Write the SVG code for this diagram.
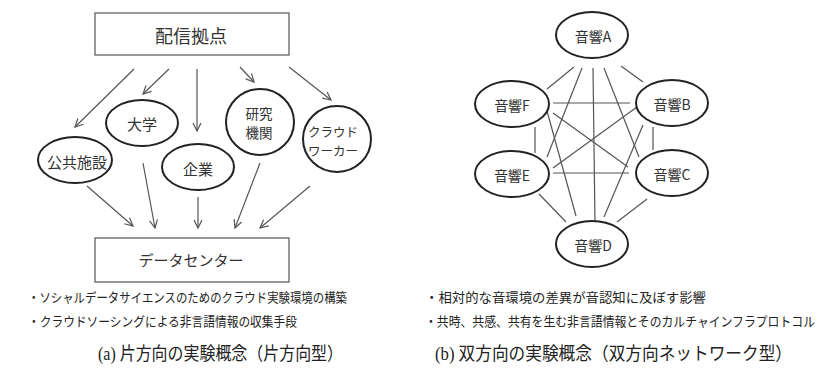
<svg xmlns="http://www.w3.org/2000/svg" width="827" height="372" viewBox="0 0 827 372">
<defs>
<style>
.box{fill:#fff;stroke:#555;stroke-width:1.2}
.node{fill:#fff;stroke:#222;stroke-width:2}
.t{font-family:"Noto Sans CJK JP","Liberation Sans",sans-serif;fill:#333;text-anchor:middle;dominant-baseline:central}
.b{font-family:"Noto Sans CJK JP","Liberation Sans",sans-serif;fill:#222;font-size:13px}
.cap{font-family:"Liberation Serif","Noto Sans CJK JP",serif;fill:#222;font-size:18px}
.arr{stroke:#555;stroke-width:1.2;fill:none;marker-end:url(#ah)}
.ln{stroke:#555;stroke-width:1.2;fill:none}
</style>
<marker id="ah" viewBox="0 0 10 10" markerWidth="10" markerHeight="10" refX="9" refY="5" orient="auto" markerUnits="userSpaceOnUse">
<path d="M1,1 L9,5 L1,9" fill="none" stroke="#555" stroke-width="1.2"/>
</marker>
</defs>
<rect width="827" height="372" fill="#fff"/>

<g id="connectors">
<line class="arr" x1="134" y1="69" x2="75" y2="127"/>
<line class="arr" x1="169" y1="69" x2="143" y2="94"/>
<line class="arr" x1="197" y1="69" x2="197" y2="131"/>
<line class="arr" x1="240" y1="67" x2="254" y2="82"/>
<line class="arr" x1="289" y1="67" x2="331" y2="100"/>
<line class="arr" x1="87" y1="186" x2="133" y2="226"/>
<line class="arr" x1="143" y1="163" x2="155" y2="228"/>
<line class="arr" x1="198" y1="197" x2="198" y2="228"/>
<line class="arr" x1="260" y1="163" x2="235" y2="228"/>
<line class="arr" x1="310" y1="186" x2="260" y2="228"/>

<line class="ln" x1="574" y1="67" x2="547" y2="89"/>
<line class="ln" x1="621" y1="66" x2="643" y2="82"/>
<line class="ln" x1="582" y1="68" x2="547" y2="157"/>
<line class="ln" x1="604" y1="68" x2="639" y2="157"/>
<line class="ln" x1="593" y1="68" x2="595" y2="223"/>
<line class="ln" x1="553" y1="103" x2="630" y2="103"/>
<line class="ln" x1="553" y1="113" x2="628" y2="167"/>
<line class="ln" x1="535" y1="127" x2="535" y2="153"/>
<line class="ln" x1="547" y1="111" x2="576" y2="216"/>
<line class="ln" x1="637" y1="107" x2="553" y2="168"/>
<line class="ln" x1="653" y1="127" x2="653" y2="150"/>
<line class="ln" x1="643" y1="125" x2="604" y2="217"/>
<line class="ln" x1="553" y1="173" x2="629" y2="173"/>
<line class="ln" x1="539" y1="194" x2="566" y2="222"/>
<line class="ln" x1="647" y1="199" x2="617" y2="222"/>
</g>

<g id="haishin">
<rect class="box" x="95" y="13" width="194" height="42"/>
<text class="t" x="191" y="35" font-size="18">配信拠点</text>
</g>
<g id="daigaku">
<ellipse class="node" cx="142" cy="123" rx="36" ry="23"/>
<text class="t" x="142" y="123" font-size="15">大学</text>
</g>
<g id="koukyou">
<ellipse class="node" cx="75" cy="160" rx="37" ry="23"/>
<text class="t" x="77" y="161" font-size="15">公共施設</text>
</g>
<g id="kigyou">
<ellipse class="node" cx="198" cy="167" rx="36" ry="23"/>
<text class="t" x="198" y="168" font-size="15">企業</text>
</g>
<g id="kenkyu">
<ellipse class="node" cx="260" cy="122" rx="34" ry="33"/>
<text class="t" x="259" y="113" font-size="13.5">研究</text>
<text class="t" x="259" y="132" font-size="13.5">機関</text>
</g>
<g id="crowd">
<ellipse class="node" cx="337" cy="139" rx="34" ry="33"/>
<text class="t" x="333" y="131" font-size="12.5">クラウド</text>
<text class="t" x="333" y="150" font-size="12.5">ワーカー</text>
</g>
<g id="datacenter">
<rect class="box" x="95" y="238" width="194" height="44"/>
<text class="t" x="191" y="259" font-size="15">データセンター</text>
</g>

<g id="onkyoA">
<ellipse class="node" cx="592" cy="35" rx="36" ry="23"/>
<text class="t" x="593" y="36" font-size="14">音響A</text>
</g>
<g id="onkyoF">
<ellipse class="node" cx="512" cy="104" rx="37" ry="23"/>
<text class="t" x="512" y="105" font-size="14">音響F</text>
</g>
<g id="onkyoB">
<ellipse class="node" cx="672" cy="103" rx="36" ry="23"/>
<text class="t" x="672" y="104" font-size="14">音響B</text>
</g>
<g id="onkyoE">
<ellipse class="node" cx="512" cy="174" rx="37" ry="23"/>
<text class="t" x="512" y="175" font-size="14">音響E</text>
</g>
<g id="onkyoC">
<ellipse class="node" cx="672" cy="173" rx="36" ry="23"/>
<text class="t" x="672" y="174" font-size="14">音響C</text>
</g>
<g id="onkyoD">
<ellipse class="node" cx="592" cy="244" rx="36" ry="23"/>
<text class="t" x="593" y="245" font-size="14">音響D</text>
</g>

<text class="b" x="28" y="302" textLength="319" lengthAdjust="spacingAndGlyphs">・ソシャルデータサイエンスのためのクラウド実験環境の構築</text>
<text class="b" x="28" y="326" textLength="269" lengthAdjust="spacingAndGlyphs">・クラウドソーシングによる非言語情報の収集手段</text>
<text class="b" x="425" y="302" textLength="281" lengthAdjust="spacingAndGlyphs">・相対的な音環境の差異が音認知に及ぼす影響</text>
<text class="b" x="425" y="326" font-size="11" textLength="390" lengthAdjust="spacingAndGlyphs">・共時、共感、共有を生む非言語情報とそのカルチャインフラプロトコル</text>

<text class="cap" x="98" y="360" textLength="245" lengthAdjust="spacingAndGlyphs">(a) 片方向の実験概念（片方向型）</text>
<text class="cap" x="435" y="360" textLength="357" lengthAdjust="spacingAndGlyphs">(b) 双方向の実験概念（双方向ネットワーク型）</text>
</svg>
